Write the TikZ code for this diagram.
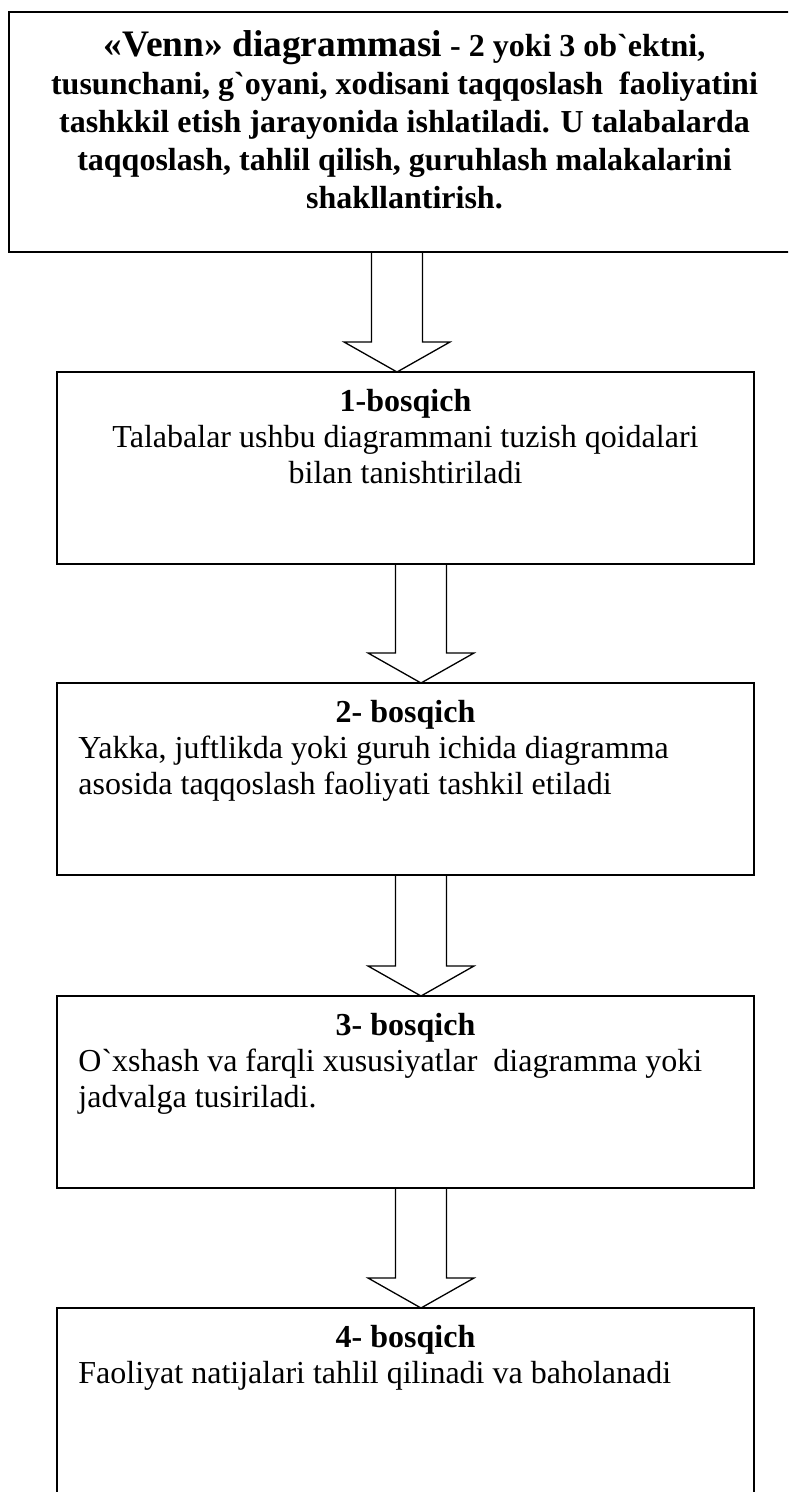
\documentclass[tikz,border=0pt]{standalone}
\usepackage{fontspec}
\setmainfont{Liberation Serif}
\usepackage{tikz}
\usetikzlibrary{calc}

\newcommand{\bq}{\textasciigrave}

\tikzset{
	stepbox/.style={draw, line width=0.65pt, rectangle, anchor=north, outer sep=0pt, inner sep=0pt, minimum width=348.5pt, minimum height=96pt},
	vennbox/.style={stepbox, minimum width=395.5pt, minimum height=120pt},
	steptitle/.style={anchor=north, inner sep=0pt, font=\fontsize{16}{18}\selectfont\bfseries},
	steptext/.style={anchor=north west, inner sep=0pt, align=left, font=\fontsize{16}{18}\selectfont},
	blockarrow/.style={line width=0.65pt, line join=miter}
}

% hollow arrow from the bottom of #1 to the top of #2, shifted by #3
\newcommand{\fatarrow}[3]{%
	\coordinate (#2tip) at ($(#2.north)+(#3,0)$);
	\draw[blockarrow] ($(#2tip |- #1.south)+(-25.5,0)$) -- ($(#2tip)+(-25.5,-30)$) -- ($(#2tip)+(-53,-30)$) -- (#2tip) -- ($(#2tip)+(53,-30)$) -- ($(#2tip)+(25.5,-30)$) -- ($(#2tip |- #1.south)+(25.5,0)$);
}

\begin{document}
\begin{tikzpicture}[x=0.5pt, y=-0.5pt]
				\useasboundingbox (0,0) rectangle (788,1492);
				\clip (0,0) rectangle (788,1492);
				
				%Title box
				\node[vennbox] (venn) at (404.5,12) {};
				\node[steptitle, align=center, font=\fontsize{16}{19}\selectfont\bfseries] (venntext) at ($(venn.north)+(0,18)$) {{\fontsize{18.7}{22}\selectfont «Venn» diagrammasi} - 2 yoki 3 ob\bq ektni,\\ tusunchani, g\bq oyani, xodisani taqqoslash\ \ faoliyatini\\ tashkkil etish jarayonida ishlatiladi. U talabalarda\\ taqqoslash, tahlil qilish, guruhlash malakalarini\\ shakllantirish.};
				
				%Steps
				\node[stepbox] (step1) at (405.5,372) {};
				\node[stepbox] (step2) at (405.5,683) {};
				\node[stepbox] (step3) at (405.5,996) {};
				\node[stepbox] (step4) at (405.5,1308) {};
				
				%Step texts
				\node[steptitle] (step1title) at ($(step1.north)+(0,17)$) {1-bosqich};
				\node[steptext, anchor=north, align=center] (step1text) at ($(step1.north)+(0,53)$) {Talabalar ushbu diagrammani tuzish qoidalari\\ bilan tanishtiriladi};
				
				\node[steptitle] (step2title) at ($(step2.north)+(0,17)$) {2- bosqich};
				\node[steptext] (step2text) at ($(step2.north west)+(21,53)$) {Yakka, juftlikda yoki guruh ichida diagramma\\ asosida taqqoslash faoliyati tashkil etiladi};
				
				\node[steptitle] (step3title) at ($(step3.north)+(0,17)$) {3- bosqich};
				\node[steptext] (step3text) at ($(step3.north west)+(21,53)$) {O\bq xshash va farqli xususiyatlar\ \ diagramma yoki\\ jadvalga tusiriladi.};
				
				\node[steptitle] (step4title) at ($(step4.north)+(0,17)$) {4- bosqich};
				\node[steptext] (step4text) at ($(step4.north west)+(21,53)$) {Faoliyat natijalari tahlil qilinadi va baholanadi};
				
				%Arrows
				\fatarrow{venn}{step1}{-8.5}
				\fatarrow{step1}{step2}{15.5}
				\fatarrow{step2}{step3}{15.5}
				\fatarrow{step3}{step4}{15.5}
			\end{tikzpicture}
\end{document}
